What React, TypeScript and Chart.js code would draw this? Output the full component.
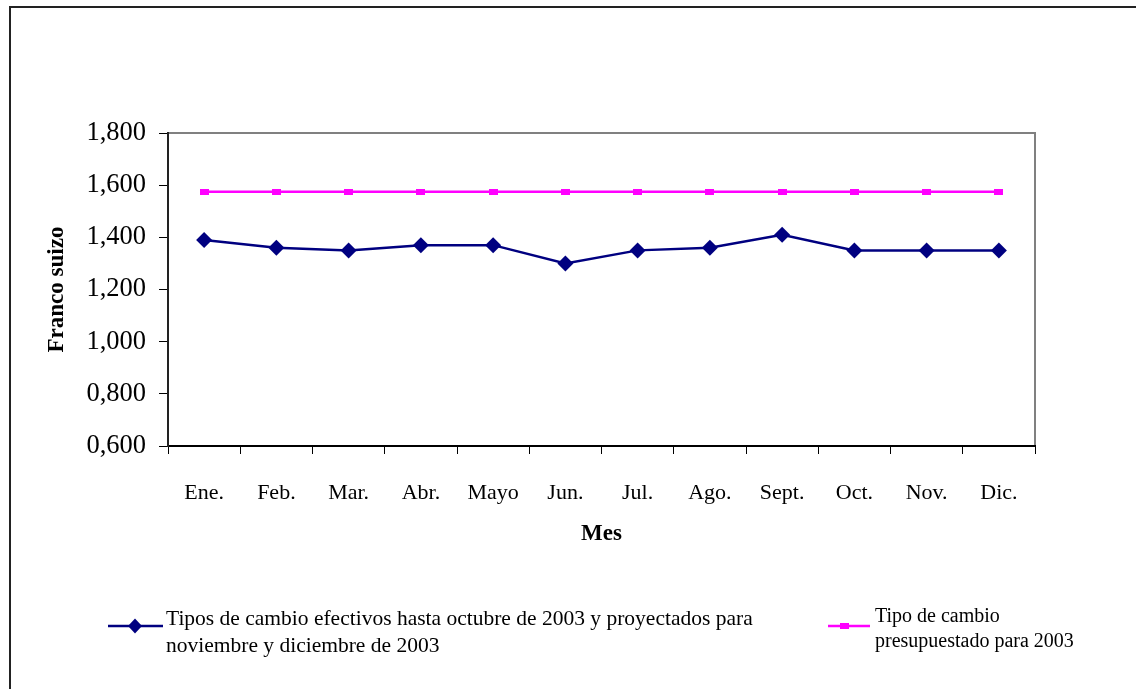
import React, { useEffect, useRef } from "react";
import { Chart, registerables } from "chart.js";

Chart.register(...registerables);

const months = ["Ene.", "Feb.", "Mar.", "Abr.", "Mayo", "Jun.", "Jul.", "Ago.", "Sept.", "Oct.", "Nov.", "Dic."];
const efectivos = [1.39, 1.36, 1.35, 1.37, 1.37, 1.3, 1.35, 1.36, 1.41, 1.35, 1.35, 1.35];
const presupuestado = [1.575, 1.575, 1.575, 1.575, 1.575, 1.575, 1.575, 1.575, 1.575, 1.575, 1.575, 1.575];
const efectivosLabel = [
  "Tipos de cambio efectivos hasta octubre de 2003 y proyectados para",
  "noviembre y diciembre de 2003",
];
const presupuestadoLabel = ["Tipo de cambio", "presupuestado para 2003"];
const yTitle = "Franco suizo";
const xTitle = "Mes";

const SERIF = "'Liberation Serif', 'Times New Roman', serif";
const NAVY = "#000080";
const MAGENTA = "#FF00FF";

function makeRectMarker(w: number, h: number, color: string) {
  const c = document.createElement("canvas");
  c.width = w;
  c.height = h;
  const g = c.getContext("2d")!;
  g.fillStyle = color;
  g.fillRect(0, 0, w, h);
  return c;
}

const framePlugin = {
  id: "frame",
  beforeDraw(chart: any) {
    const { ctx, chartArea } = chart;
    ctx.save();
    ctx.fillStyle = "#ffffff";
    ctx.fillRect(0, 0, chart.width, chart.height);
    // outer frame
    ctx.strokeStyle = "#222222";
    ctx.lineWidth = 2;
    ctx.strokeRect(10, 7, 3000, 3000);
    // plot frame
    ctx.strokeStyle = "#808080";
    ctx.lineWidth = 2;
    ctx.strokeRect(chartArea.left, chartArea.top, chartArea.right - chartArea.left, chartArea.bottom - chartArea.top);
    ctx.restore();
  },
};

const legendPlugin = {
  id: "customLegend",
  afterDraw(chart: any) {
    const { ctx } = chart;
    ctx.save();
    ctx.textBaseline = "middle";
    ctx.textAlign = "left";
    // item 1
    const ds0 = chart.data.datasets[0];
    ctx.strokeStyle = ds0.borderColor;
    ctx.lineWidth = 2.5;
    ctx.beginPath();
    ctx.moveTo(108, 626);
    ctx.lineTo(163, 626);
    ctx.stroke();
    ctx.fillStyle = ds0.pointBackgroundColor;
    ctx.beginPath();
    ctx.moveTo(135, 618.5);
    ctx.lineTo(142, 626);
    ctx.lineTo(135, 633.5);
    ctx.lineTo(128, 626);
    ctx.closePath();
    ctx.fill();
    ctx.fillStyle = "#000";
    ctx.font = `21.5px ${SERIF}`;
    (ds0.legendLines as string[]).forEach((t: string, i: number) => ctx.fillText(t, 166, 619 + i * 27));
    // item 2
    const ds1 = chart.data.datasets[1];
    ctx.strokeStyle = ds1.borderColor;
    ctx.lineWidth = 2.5;
    ctx.beginPath();
    ctx.moveTo(828, 626);
    ctx.lineTo(870, 626);
    ctx.stroke();
    ctx.fillStyle = ds1.borderColor;
    ctx.fillRect(840, 623, 9, 6);
    ctx.fillStyle = "#000";
    ctx.font = `20px ${SERIF}`;
    (ds1.legendLines as string[]).forEach((t: string, i: number) => ctx.fillText(t, 875, 617 + i * 25));
    ctx.restore();
  },
};

export default function App() {
  const ref = useRef<HTMLCanvasElement | null>(null);
  useEffect(() => {
    if (!ref.current) return;
    const squareMarker = makeRectMarker(9, 6, MAGENTA);
    const chart = new Chart(ref.current, {
      type: "line",
      data: {
        labels: months,
        datasets: [
          {
            label: efectivosLabel.join(" "),
            legendLines: efectivosLabel,
            data: efectivos,
            borderColor: NAVY,
            backgroundColor: NAVY,
            pointBackgroundColor: NAVY,
            pointBorderColor: NAVY,
            borderWidth: 2.5,
            pointStyle: "rectRot",
            pointRadius: 8,
            pointBorderWidth: 0,
            tension: 0,
          } as any,
          {
            label: presupuestadoLabel.join(" "),
            legendLines: presupuestadoLabel,
            data: presupuestado,
            borderColor: MAGENTA,
            backgroundColor: MAGENTA,
            borderWidth: 2.5,
            pointStyle: squareMarker,
            pointRadius: 5,
            tension: 0,
          } as any,
        ],
      },
      options: {
        animation: false,
        responsive: true,
        maintainAspectRatio: false,
        layout: { padding: { left: 0, top: 133, right: 101, bottom: 0 } },
        plugins: {
          legend: { display: false },
          tooltip: { enabled: false },
        },
        scales: {
          x: {
            type: "category",
            offset: true,
            grid: {
              offset: true,
              drawOnChartArea: false,
              drawTicks: true,
              tickLength: 8,
              color: "#000",
              lineWidth: 1,
            },
            border: { color: "#000", width: 2 },
            ticks: {
              color: "#000",
              font: { family: SERIF, size: 22 },
              padding: 26,
              maxRotation: 0,
              autoSkip: false,
            },
            title: {
              display: true,
              text: xTitle,
              color: "#000",
              font: { family: SERIF, size: 23, weight: "bold" },
              padding: { top: 0, bottom: 141 },
            },
            afterFit(scale: any) {
              scale.height = 689 - 446;
            },
          },
          y: {
            min: 0.6,
            max: 1.8,
            grid: {
              drawOnChartArea: false,
              drawTicks: true,
              tickLength: 9,
              color: "#000",
              lineWidth: 1,
            },
            border: { color: "#222", width: 2 },
            ticks: {
              stepSize: 0.2,
              color: "#000",
              font: { family: SERIF, size: 26.5 },
              padding: 13,
              callback: (v: any) => Number(v).toFixed(3).replace(".", ","),
            },
            title: {
              display: true,
              text: yTitle,
              color: "#000",
              font: { family: SERIF, size: 23, weight: "bold" },
              padding: { top: 43, bottom: 0 },
            },
            afterFit(scale: any) {
              scale.width = 168;
            },
          },
        },
      },
      plugins: [framePlugin, legendPlugin],
    });
    return () => chart.destroy();
  }, []);
  return (
    <div style={{ position: "fixed", left: 0, top: 0, width: 1136, height: 689, background: "#fff" }}>
      <canvas ref={ref} />
    </div>
  );
}
